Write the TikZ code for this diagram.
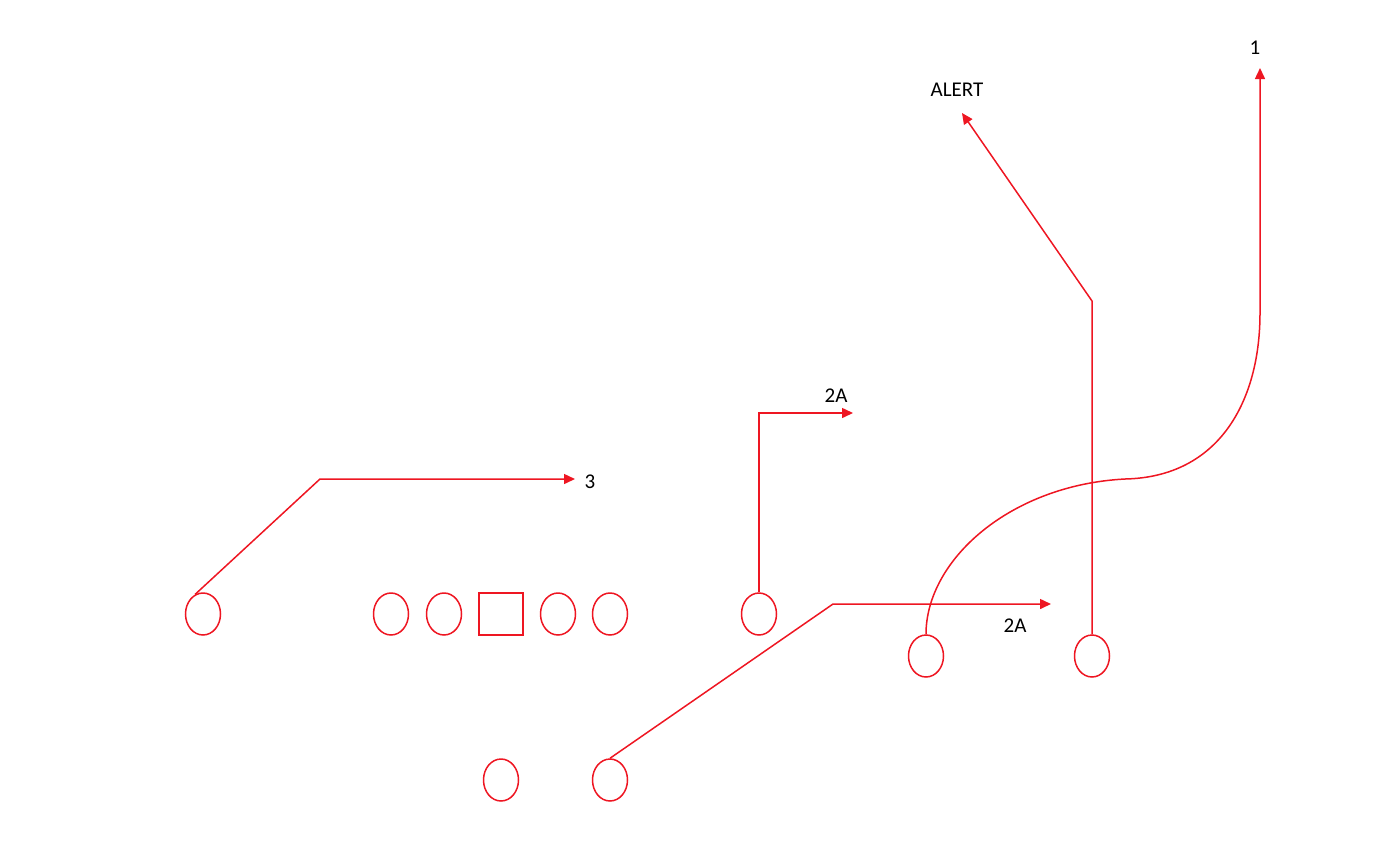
\documentclass[tikz,border=0pt]{standalone}
\usepackage{fontspec}
\setmainfont{Carlito}
\usetikzlibrary{arrows.meta,shapes.geometric}
\definecolor{pr}{RGB}{238,22,34}
\begin{document}
\begin{tikzpicture}[x=1pt,y=-1pt,
 player/.style={ellipse,draw=pr,line width=1.5pt,minimum width=35pt,minimum height=42pt,inner sep=0pt},
 centerbox/.style={rectangle,draw=pr,line width=1.5pt,minimum width=44pt,minimum height=42pt,inner sep=0pt},
 route/.style={draw=pr,line width=1.5pt},
 arr/.style={-{Triangle[length=11pt,width=10pt]}},
 lbl/.style={font=\fontsize{21}{25}\selectfont,text=black,inner sep=0pt}]
\useasboundingbox (0,0) rectangle (1378,860);
% players
\node[player] (wl) at (203,614) {};
\node[player] (lt) at (391,614) {};
\node[player] (lg) at (444,614) {};
\node[centerbox] (c) at (501,614) {};
\node[player] (rg) at (558,614) {};
\node[player] (rt) at (610,614) {};
\node[player] (te) at (759,614) {};
\node[player] (qb) at (501,780) {};
\node[player] (rb) at (610,780) {};
\node[player] (sl) at (926,656) {};
\node[player] (wr) at (1092,656) {};
% route points
\coordinate (w1) at (320,479);
\coordinate (w2) at (575,479);
\coordinate (t1) at (759,413);
\coordinate (t2) at (853,413);
\coordinate (r1) at (833,604);
\coordinate (r2) at (1051,604);
\coordinate (s1) at (1125,479);
\coordinate (s2) at (1260,313);
\coordinate (s3) at (1260,68);
\coordinate (a1) at (1092,301);
\coordinate (a2) at (962,113);
% routes
\draw[route,arr] (wl.112) -- (w1) -- (w2);
\draw[route,arr] (te.north) -- (t1) -- (t2);
\draw[route,arr] (rb.north) -- (r1) -- (r2);
\draw[route,arr] (sl.north) .. controls (926,560) and (1010,485) .. (s1) .. controls (1220,477) and (1260,400) .. (s2) -- (s3);
\draw[route,arr] (wr.north) -- (a1) -- (a2);
% labels
\node[lbl] (l3) at (590,482) {3};
\node[lbl] (l2a) at (836,396) {2A};
\node[lbl] (l2b) at (1015,626) {2A};
\node[lbl] (lal) at (957,90) {ALERT};
\node[lbl] (l1) at (1255,48) {1};
\end{tikzpicture}
\end{document}
